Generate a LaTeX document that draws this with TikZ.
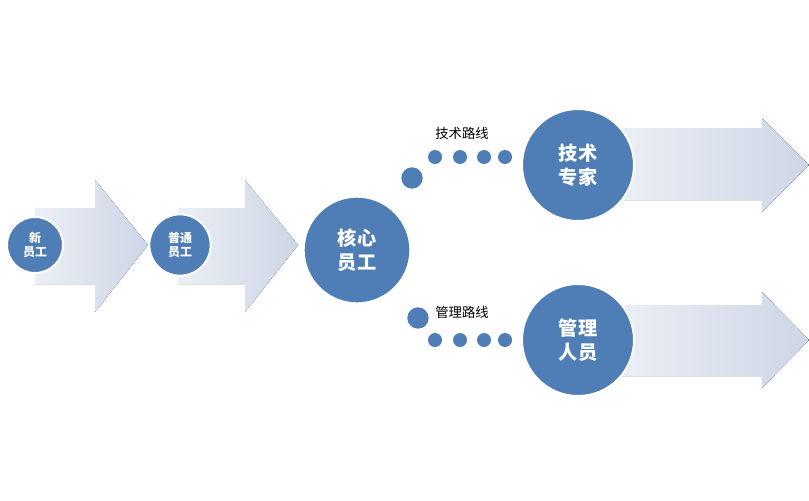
\documentclass[tikz,border=0pt]{standalone}
\usepackage{fontspec}
\setmainfont{Noto Sans CJK SC}
\definecolor{cb}{HTML}{4F7DB5}
\definecolor{ar}{HTML}{CDD6E6}
\tikzset{
  bub/.style={circle,fill=cb,draw=white,line width=1.5pt,text=white,font=\bfseries,align=center,inner sep=0pt},
  dot/.style={circle,fill=cb,inner sep=0pt,minimum size=10.5pt},
  arw/.style={left color=ar!40,right color=ar,draw=none},
  lab/.style={font=\normalsize}
}
\begin{document}
\begin{tikzpicture}[x=0.75pt,y=-0.75pt]
\useasboundingbox (0,0) rectangle (809,500);
% arrows
\fill[arw] (35,208) -- (95,208) -- (95,180) -- (148,245) -- (95,312) -- (95,284) -- (35,284) -- cycle;
\fill[arw] (178,208) -- (245,208) -- (245,180) -- (298,245) -- (245,312) -- (245,284) -- (178,284) -- cycle;
\fill[arw] (620,128) -- (762,128) -- (762,118) -- (809,165) -- (762,212) -- (762,200) -- (620,200) -- cycle;
\fill[arw] (620,305) -- (762,305) -- (762,292) -- (809,340) -- (762,388) -- (762,376) -- (620,376) -- cycle;
% circles
\node[bub,minimum size=42pt,font=\bfseries\small] (n1) at (35,245) {新\\员工};
\node[bub,minimum size=46pt,font=\bfseries\small] (n2) at (180,245) {普通\\员工};
\node[bub,minimum size=80pt,font=\bfseries\Large] (core) at (357,250) {核心\\员工};
\node[bub,minimum size=84pt,font=\bfseries\Large] (tech) at (578,165) {技术\\专家};
\node[bub,minimum size=84pt,font=\bfseries\Large] (mgr) at (578,340) {管理\\人员};
% routes
\node[dot,minimum size=16pt] (t0) at (412,178) {};
\node[dot] (t1) at (435,157) {};
\node[dot] (t2) at (460,157) {};
\node[dot] (t3) at (484,157) {};
\node[dot] (t4) at (505,157) {};
\node[lab] (tl) at (462,133) {技术路线};
\node[dot,minimum size=16pt] (m0) at (418,318) {};
\node[dot] (m1) at (435,340) {};
\node[dot] (m2) at (460,340) {};
\node[dot] (m3) at (484,340) {};
\node[dot] (m4) at (505,340) {};
\node[lab] (ml) at (462,312) {管理路线};
\end{tikzpicture}
\end{document}
